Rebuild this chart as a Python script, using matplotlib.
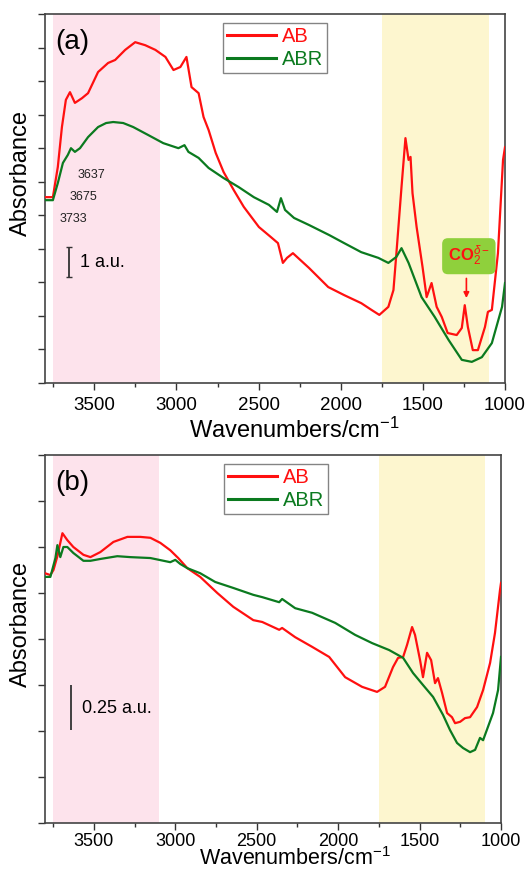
import matplotlib
matplotlib.use("Agg")
import matplotlib.pyplot as plt
from matplotlib.ticker import MultipleLocator

plt.rcParams['font.family'] = ['Liberation Sans', 'DejaVu Sans']
plt.rcParams['mathtext.fontset'] = 'custom'
plt.rcParams['mathtext.rm'] = 'Liberation Sans'
plt.rcParams['mathtext.it'] = 'Liberation Sans:italic'
plt.rcParams['mathtext.bf'] = 'Liberation Sans:bold'

# ---------------- Panel (a) data ----------------
a_ab_wn = [3800, 3752, 3722, 3697, 3673, 3648, 3618, 3575, 3538, 3477, 3416, 3373, 3312, 3251,
           3190, 3128, 3067, 3018, 2976, 2939, 2908, 2865, 2835, 2804, 2761, 2713, 2651, 2590,
           2498, 2425, 2382, 2352, 2327, 2291, 2193, 2076, 1979, 1875, 1813, 1765, 1710, 1679,
           1661, 1630, 1606, 1587, 1575, 1563, 1538, 1502, 1477, 1447, 1416, 1385, 1349, 1294,
           1263, 1245, 1226, 1196, 1165, 1122, 1104, 1080, 1043, 1012, 1000]
a_ab_y = [5.54, 5.54, 6.44, 7.63, 8.44, 8.67, 8.35, 8.49, 8.64, 9.27, 9.54, 9.63, 9.93, 10.16,
          10.07, 9.93, 9.72, 9.33, 9.42, 9.72, 8.82, 8.64, 7.93, 7.54, 6.86, 6.29, 5.75, 5.25,
          4.65, 4.35, 4.17, 3.58, 3.73, 3.87, 3.43, 2.86, 2.62, 2.38, 2.18, 2.03, 2.27, 2.77,
          3.87, 5.84, 7.30, 6.65, 6.74, 5.66, 4.65, 3.46, 2.56, 2.98, 2.27, 1.97, 1.49, 1.43,
          1.64, 2.32, 1.67, 0.98, 0.98, 1.67, 2.12, 2.18, 3.87, 6.65, 7.03]

a_abr_wn = [3800, 3752, 3722, 3691, 3661, 3642, 3618, 3587, 3538, 3477, 3428, 3385, 3324, 3263,
            3171, 3080, 2988, 2951, 2927, 2865, 2804, 2713, 2621, 2529, 2437, 2388, 2364, 2339,
            2284, 2193, 2070, 1979, 1875, 1771, 1710, 1661, 1630, 1587, 1508, 1428, 1343, 1263,
            1202, 1141, 1080, 1018, 1000]
a_abr_y = [5.45, 5.45, 5.96, 6.56, 6.80, 7.00, 6.89, 7.00, 7.33, 7.63, 7.75, 7.78, 7.75, 7.63,
           7.39, 7.15, 7.00, 7.09, 6.89, 6.71, 6.41, 6.11, 5.84, 5.54, 5.31, 5.10, 5.51, 5.16,
           4.92, 4.71, 4.41, 4.17, 3.90, 3.73, 3.58, 3.76, 4.02, 3.58, 2.56, 1.97, 1.28, 0.69,
           0.63, 0.77, 1.19, 2.27, 2.98]

# ---------------- Panel (b) data ----------------
b_ab_wn = [3800, 3767, 3748, 3724, 3693, 3663, 3626, 3564, 3521, 3460, 3380, 3294, 3215, 3153,
           3092, 3031, 2982, 2926, 2847, 2742, 2644, 2521, 2466, 2362, 2344, 2264, 2160, 2055,
           1957, 1853, 1761, 1712, 1663, 1632, 1601, 1577, 1546, 1528, 1497, 1479, 1454, 1429,
           1405, 1387, 1362, 1331, 1301, 1282, 1251, 1221, 1190, 1147, 1110, 1067, 1037, 1006, 1000]
b_ab_y = [5.43, 5.39, 5.50, 5.80, 6.30, 6.15, 6.00, 5.83, 5.78, 5.89, 6.11, 6.22, 6.22, 6.20,
          6.09, 5.93, 5.76, 5.54, 5.35, 5.00, 4.70, 4.41, 4.37, 4.20, 4.24, 4.04, 3.83, 3.61,
          3.17, 2.96, 2.85, 2.96, 3.39, 3.59, 3.61, 3.87, 4.26, 4.09, 3.54, 3.17, 3.70, 3.54,
          3.04, 3.15, 2.83, 2.39, 2.30, 2.17, 2.20, 2.28, 2.30, 2.52, 2.89, 3.48, 4.13, 5.07, 5.22]

b_abr_wn = [3800, 3767, 3736, 3724, 3706, 3687, 3663, 3626, 3564, 3521, 3460, 3356, 3276, 3153,
            3031, 3000, 2969, 2926, 2847, 2755, 2644, 2521, 2466, 2362, 2344, 2264, 2160, 2018,
            1896, 1791, 1687, 1601, 1540, 1479, 1417, 1356, 1313, 1270, 1233, 1190, 1159, 1129,
            1110, 1080, 1049, 1018, 1000]
b_abr_y = [5.35, 5.35, 5.76, 6.04, 5.78, 6.00, 6.00, 5.87, 5.70, 5.70, 5.74, 5.80, 5.78, 5.76,
           5.67, 5.72, 5.63, 5.54, 5.43, 5.24, 5.11, 4.96, 4.91, 4.80, 4.87, 4.67, 4.57, 4.35,
           4.09, 3.91, 3.76, 3.59, 3.26, 3.00, 2.74, 2.35, 2.02, 1.74, 1.63, 1.54, 1.59, 1.85,
           1.80, 2.09, 2.39, 2.89, 3.61]

series_labels = ["AB", "ABR"]
band_oh = (3750, 3100)
band_carb = (1750, 1100)
xticks = [3500, 3000, 2500, 2000, 1500, 1000]

RED = '#ff1010'
GREEN = '#0b7a1f'
PINK = '#fde3ec'
YELLOW = '#fdf6cf'

fig = plt.figure(figsize=(5.25, 8.72), dpi=100)
axA = fig.add_axes([45/525, 1-383/872, (505-45)/525, (383-14)/872])
axB = fig.add_axes([45/525, 1-823/872, (501-45)/525, (823-455)/872])


def style(ax, ymax, ylab_y, xlab_y, xlab_x, xlab_fs, tick_fs, tick_pad):
    ax.set_xlim(3800, 1000)
    ax.set_ylim(0, ymax)
    ax.axvspan(band_oh[0], band_oh[1], color=PINK, lw=0, zorder=0)
    ax.axvspan(band_carb[0], band_carb[1], color=YELLOW, lw=0, zorder=0)
    ax.set_xticks(xticks)
    ax.xaxis.set_minor_locator(MultipleLocator(250))
    ax.yaxis.set_major_locator(MultipleLocator(1))
    ax.set_yticklabels([])
    ax.tick_params(axis='both', which='major', direction='out', length=5, width=1, color='#333333')
    ax.tick_params(axis='x', which='minor', direction='out', length=3, width=1, color='#333333')
    ax.tick_params(axis='x', labelsize=tick_fs, pad=tick_pad)
    for s in ax.spines.values():
        s.set_color('#444444')
        s.set_linewidth(1.2)
    ax.set_xlabel('Wavenumbers/cm$^{-1}$', fontsize=xlab_fs, va='bottom')
    ax.set_ylabel('Absorbance', fontsize=17)
    ax.yaxis.set_label_coords(-0.028, ylab_y)
    ax.xaxis.set_label_coords(xlab_x, xlab_y)


# (a): label bottom ~ y=443 px ; (b): label bottom ~ y=870 px
style(axA, 11, 0.57, (383 - 443) / 369, 0.543, 17, 13.5, 5)
style(axB, 8, 0.54, (823 - 870) / 368, 0.548, 15.5, 13, 2)

axA.plot(a_ab_wn, a_ab_y, color=RED, lw=1.6, label=series_labels[0], zorder=3)
axA.plot(a_abr_wn, a_abr_y, color=GREEN, lw=1.6, label=series_labels[1], zorder=3)
axB.plot(b_ab_wn, b_ab_y, color=RED, lw=1.6, label=series_labels[0], zorder=3)
axB.plot(b_abr_wn, b_abr_y, color=GREEN, lw=1.6, label=series_labels[1], zorder=3)

for ax, tag, lx in [(axA, '(a)', 0.50), (axB, '(b)', 0.507)]:
    ax.text(0.022, 0.96, tag, transform=ax.transAxes, fontsize=20, va='top', ha='left')
    leg = ax.legend(loc='upper center', bbox_to_anchor=(lx, 1.0), fontsize=14.5,
                    frameon=True, fancybox=False, handlelength=2.4, handletextpad=0.3,
                    borderpad=0.2, labelspacing=0.2, borderaxespad=0.45)
    leg.get_frame().set_edgecolor('#666666')
    leg.get_frame().set_linewidth(1.0)
    for t, c in zip(leg.get_texts(), [RED, GREEN]):
        t.set_color(c)
    for l in leg.get_lines():
        l.set_linewidth(2.2)

# peak position labels in (a)
for wn, y, s in [(3600, 6.2, '3637'), (3650, 5.55, '3675'), (3710, 4.9, '3733')]:
    axA.text(wn, y, s, fontsize=9, color='#222222', ha='left', va='center')

# scale bars
axA.plot([3654, 3654], [3.16, 4.05], color='#333333', lw=1.3, solid_capstyle='butt')
axA.plot([3654], [3.16], marker='_', color='#333333', ms=5)
axA.plot([3654], [4.05], marker='_', color='#333333', ms=5)
axA.text(3590, 3.6, '1 a.u.', fontsize=13, va='center', ha='left')

axB.plot([3638, 3638], [2.02, 3.0], color='#333333', lw=1.3, solid_capstyle='butt')
axB.text(3575, 2.5, '0.25 a.u.', fontsize=13, va='center', ha='left')

# CO2 annotation
axA.text(1220, 3.78, 'CO$_2^{\\delta -}$', fontsize=12, color=RED, fontweight='bold',
         ha='center', va='center',
         bbox=dict(boxstyle='round,pad=0.35', fc='#8fd03c', ec='none'))
axA.annotate('', xy=(1235, 2.45), xytext=(1235, 3.2),
             arrowprops=dict(arrowstyle='-|>', color=RED, lw=1.2, mutation_scale=8))

fig.savefig('out.png', dpi=100)
